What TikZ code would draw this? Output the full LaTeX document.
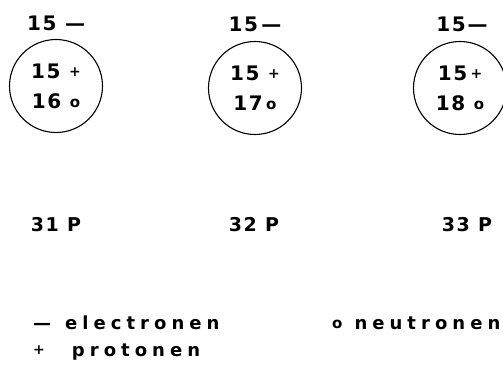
\documentclass[tikz,border=0pt]{standalone}
\usepackage{fontspec}
\usepackage{tikz}
\usetikzlibrary{positioning}

\newfontfamily\plotfont[LetterSpace=8]{DejaVu Sans}
\newfontfamily\legendfont[LetterSpace=28]{DejaVu Sans}
\newcommand{\prt}{\raisebox{1.5pt}{\fontsize{14}{14}\selectfont +}}
\newcommand{\ntr}{\raisebox{1pt}{\fontsize{15}{15}\selectfont o}}

\begin{document}
\begin{tikzpicture}[
        x=1pt, y=-1pt,
        atomNode/.style={
            draw,
            circle,
            line width=1.1pt,
            minimum size=93pt,
            inner sep=0pt,
            align=center,
            font=\plotfont\bfseries\fontsize{20}{30}\selectfont
        },
        shellLabel/.style={
            font=\plotfont\bfseries\fontsize{20}{22}\selectfont
        },
        massLabel/.style={
            font=\plotfont\bfseries\fontsize{19}{22}\selectfont
        },
        legendLabel/.style={
            anchor=west,
            inner sep=0pt,
            font=\legendfont\bfseries\fontsize{18}{22}\selectfont
        }
    ]

        \useasboundingbox (0,0) rectangle (503,369);

        % Atom cores
        \node[atomNode] (p31) at (56,86) {15 \prt\\16 \ntr};
        \node[atomNode] (p32) at (255,88) {15 \prt\\17\,\ntr};
        \node[atomNode] (p33) at (460,88) {15\,\prt\\18 \ntr};

        % Electron shells
        \node[shellLabel, above=5pt of p31] (e31) {15 —};
        \node[shellLabel, above=6pt of p32] (e32) {15\,—};
        \node[shellLabel, above=6pt of p33, xshift=2pt] (e33) {15—};

        % Isotope names
        \node[massLabel] (m31) at (56,225) {31 P};
        \node[massLabel] (m32) at (254,225) {32 P};
        \node[massLabel] (m33) at (467,225) {33 P};

        % Legend
        \node[legendLabel] (le) at (33,323) {—\hspace{14pt}electronen};
        \node[legendLabel] (ln) at (332,323) {\ntr\hspace{12pt}neutronen};
        \node[legendLabel] (lp) at (33,352) {\prt\hspace{27pt}protonen};

    \end{tikzpicture}
\end{document}
